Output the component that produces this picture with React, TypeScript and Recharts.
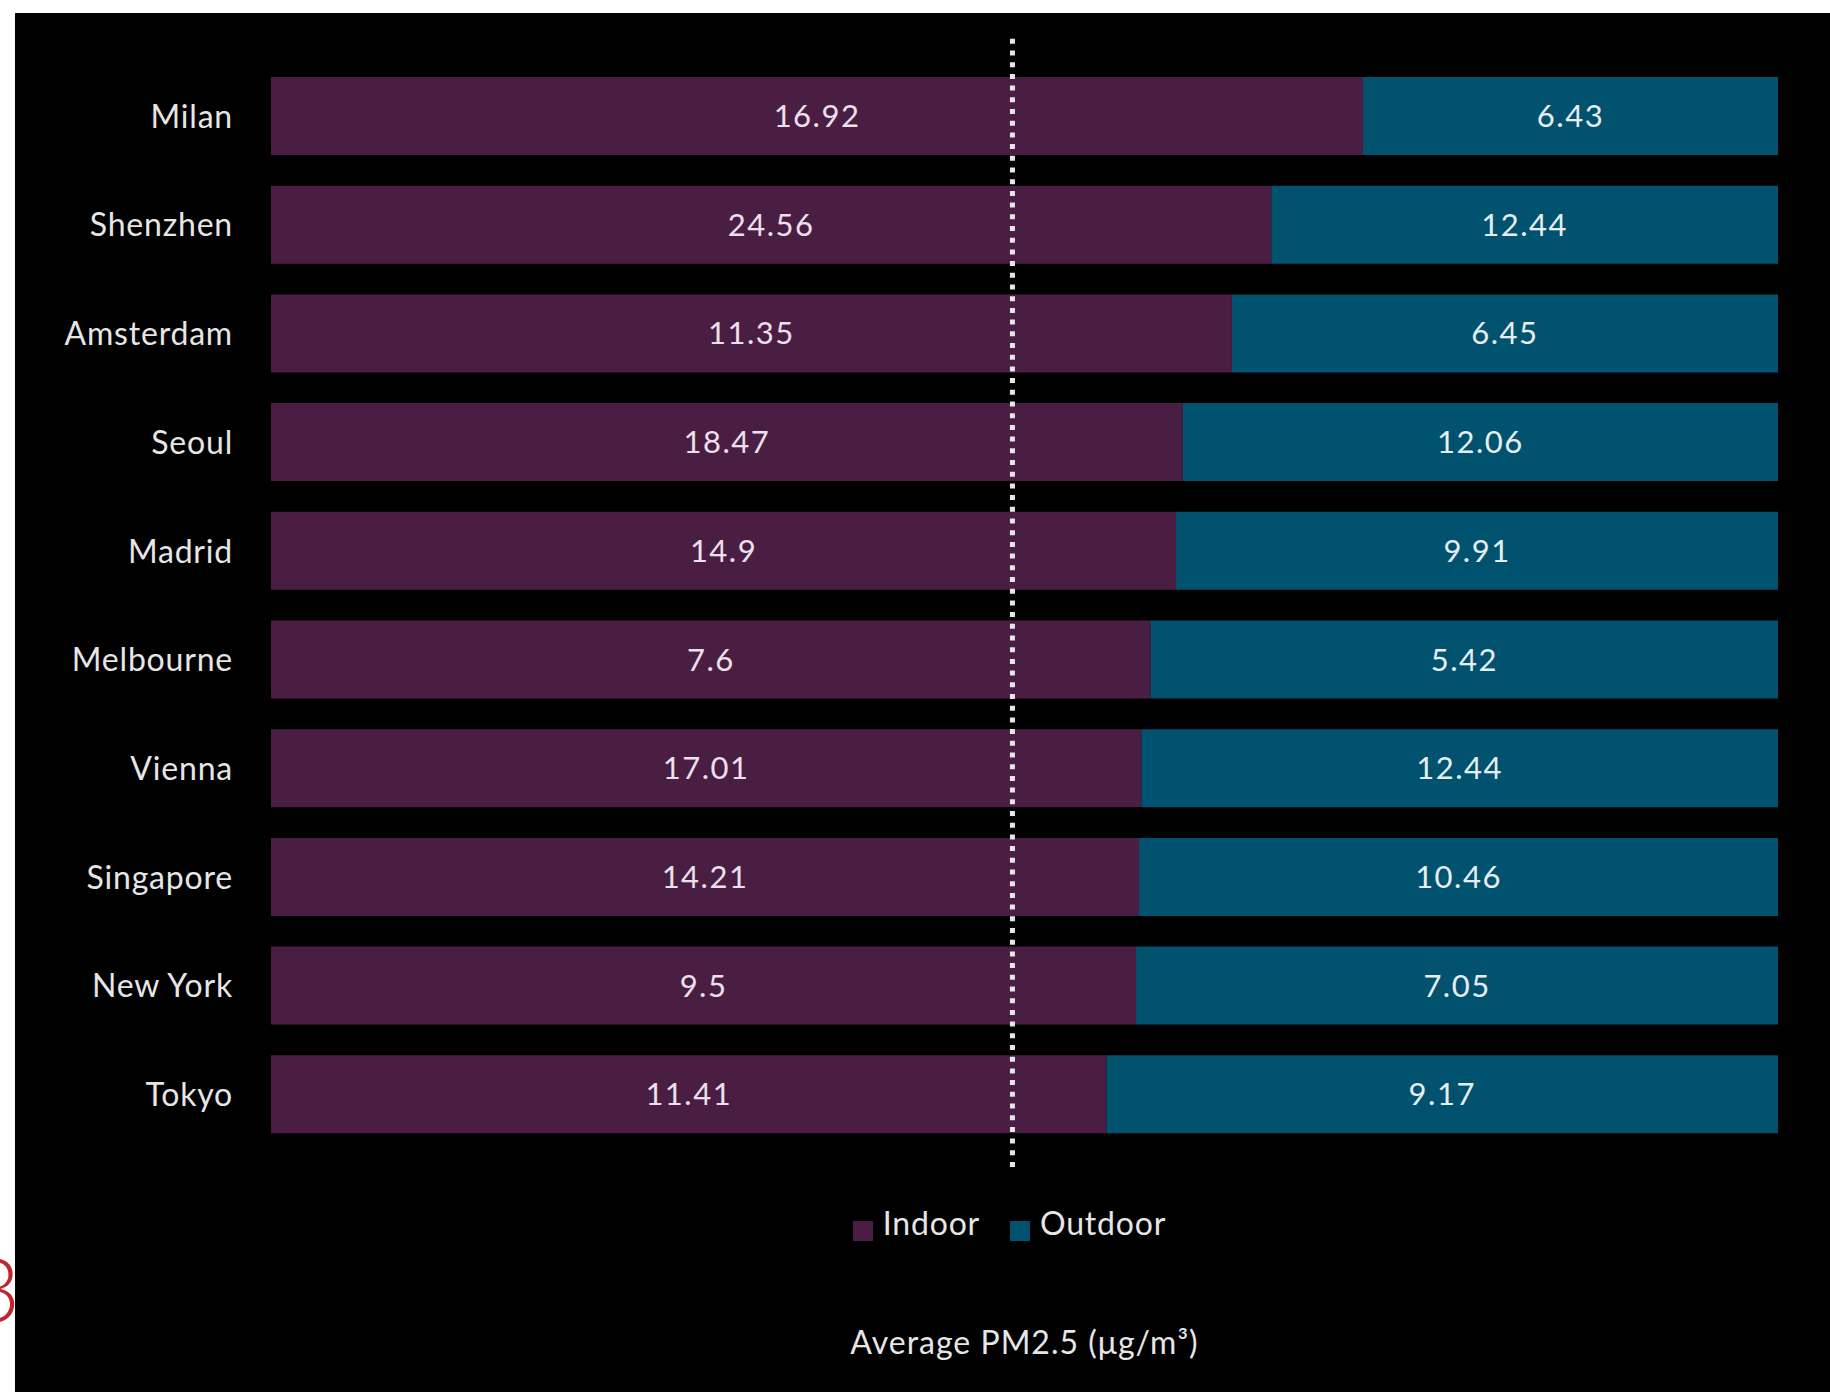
import { BarChart, Bar, XAxis, YAxis, ReferenceLine, LabelList, Legend, Label } from "recharts";

const cities = ["Milan", "Shenzhen", "Amsterdam", "Seoul", "Madrid", "Melbourne", "Vienna", "Singapore", "New York", "Tokyo"];
const indoor = [16.92, 24.56, 11.35, 18.47, 14.9, 7.6, 17.01, 14.21, 9.5, 11.41];
const outdoor = [6.43, 12.44, 6.45, 12.06, 9.91, 5.42, 12.44, 10.46, 7.05, 9.17];
// share marked by the dotted line
const marker = 0.492;

const INDOOR = "#4a1e42";
const OUTDOOR = "#00526e";
const TEXT = "#e6e6e6";
const FONT = "Lato, 'Noto Sans', sans-serif";

const data = cities.map((city, i) => ({ city, indoor: indoor[i], outdoor: outdoor[i] }));

export default function App() {
  return (
    <div style={{ position: "absolute", left: 0, top: 0, width: 1830, height: 1392, background: "#fff", overflow: "hidden", fontFamily: FONT }}>
      <span style={{ position: "absolute", left: -31, top: 1244, fontSize: 88, color: "#c0272d", fontFamily: "Lato, sans-serif", fontWeight: 300, lineHeight: 1 }}>3</span>
      <div style={{ position: "absolute", left: 15, top: 13, width: 1815, height: 1379, background: "#000" }}>
        <BarChart
          width={1815}
          height={1379}
          data={data}
          layout="vertical"
          stackOffset="expand"
          margin={{ top: 19, right: 52, bottom: 0, left: 0 }}
        >
          <XAxis type="number" domain={[0, 1]} tick={false} axisLine={false} tickLine={false} height={225}>
            <Label value="Average PM2.5 (μg/m³)" position="insideBottom" offset={38} style={{ fill: TEXT, fontSize: 32, letterSpacing: 1, fontFamily: FONT }} />
          </XAxis>
          <YAxis
            type="category"
            dataKey="city"
            width={256}
            axisLine={false}
            tickLine={false}
            tickSize={0}
            tickMargin={38}
            padding={{ top: 30, bottom: 18 }}
            tick={{ fill: TEXT, fontSize: 32, letterSpacing: 0.8, fontFamily: FONT }}
          />
          <Legend
            layout="horizontal"
            align="center"
            verticalAlign="middle"
            iconType="square"
            iconSize={20}
            wrapperStyle={{ top: 1190, left: 256, width: 1507 }}
            formatter={(value) => (
              <span style={{ color: TEXT, fontSize: 32, letterSpacing: 0.8, fontFamily: FONT, marginLeft: 6, marginRight: 20 }}>{value}</span>
            )}
          />
          <Bar dataKey="indoor" name="Indoor" stackId="a" fill={INDOOR} barSize={78} isAnimationActive={false}>
            <LabelList dataKey="indoor" position="center" style={{ fill: "#ece0ec", fontSize: 31, fontFamily: FONT, letterSpacing: 1.5 }} />
          </Bar>
          <Bar dataKey="outdoor" name="Outdoor" stackId="a" fill={OUTDOOR} barSize={78} isAnimationActive={false}>
            <LabelList dataKey="outdoor" position="center" style={{ fill: "#e6eef2", fontSize: 31, fontFamily: FONT, letterSpacing: 1.5 }} />
          </Bar>
          <ReferenceLine x={marker} stroke="#e6e6e6" strokeWidth={5} strokeDasharray="5 6.7" ifOverflow="extendDomain" />
        </BarChart>
      </div>
    </div>
  );
}
